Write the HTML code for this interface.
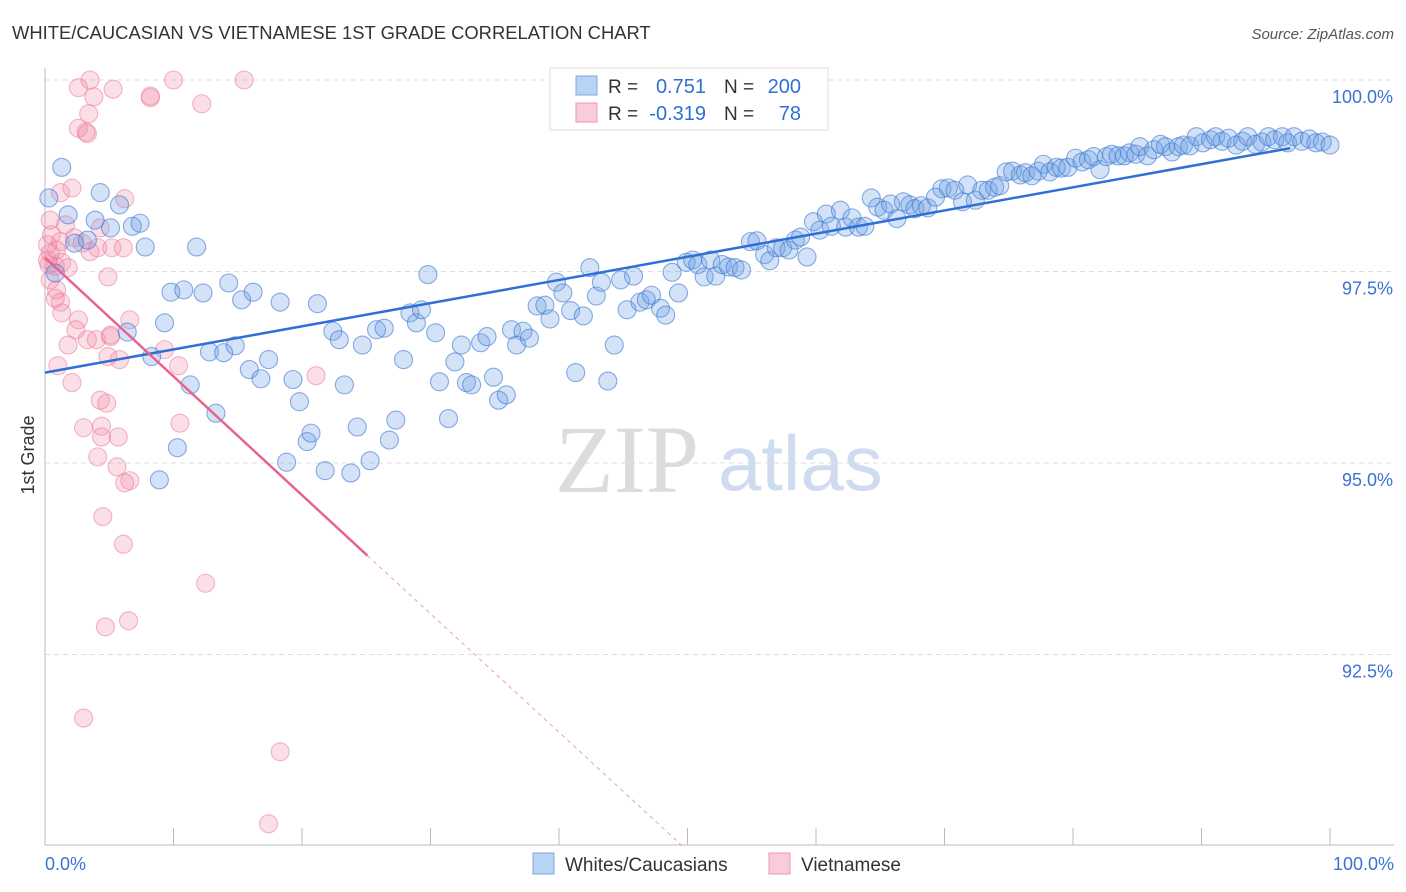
<!DOCTYPE html>
<html><head><meta charset="utf-8"><style>
body{margin:0;background:#fff;font-family:"Liberation Sans",sans-serif}
svg{display:block}
</style></head><body>
<svg id="c" width="1406" height="892" xmlns="http://www.w3.org/2000/svg">
<text x="12" y="39" font-size="18.4" fill="#333">WHITE/CAUCASIAN VS VIETNAMESE 1ST GRADE CORRELATION CHART</text>
<text x="1394" y="39" font-size="15" fill="#555" font-style="italic" text-anchor="end">Source: ZipAtlas.com</text>
<text x="555" y="492" font-size="96" fill="#dcdcdc" font-family="Liberation Serif,serif">ZIP</text>
<text x="718" y="490" font-size="78" fill="#cfdcf0">atlas</text>
<text transform="translate(34,455) rotate(-90)" font-size="18" fill="#333" text-anchor="middle">1st Grade</text>
<g id="grid"></g><g id="axes"></g><g id="pts"></g><g id="lines"></g>
<g>
<rect x="550" y="68" width="278" height="62" fill="#fff" stroke="#ddd"/>
<rect x="576" y="76" width="21" height="19" fill="#b9d3f5" stroke="#7aa7e6"/>
<text x="608" y="93" font-size="19" fill="#333">R =</text><text x="706" y="93" font-size="20" fill="#2f6fd6" text-anchor="end">0.751</text>
<text x="724" y="93" font-size="19" fill="#333">N =</text><text x="801" y="93" font-size="20" fill="#2f6fd6" text-anchor="end">200</text>
<rect x="576" y="103" width="21" height="19" fill="#f9ccd9" stroke="#ee94b0"/>
<text x="608" y="120" font-size="19" fill="#333">R =</text><text x="706" y="120" font-size="20" fill="#2f6fd6" text-anchor="end">-0.319</text>
<text x="724" y="120" font-size="19" fill="#333">N =</text><text x="801" y="120" font-size="20" fill="#2f6fd6" text-anchor="end">78</text>
</g>
<g>
<rect x="533" y="853" width="21" height="21" fill="#b9d3f5" stroke="#7aa7e6"/>
<text x="565" y="871" font-size="19" fill="#333">Whites/Caucasians</text>
<rect x="769" y="853" width="21" height="21" fill="#f9ccd9" stroke="#ee94b0"/>
<text x="801" y="871" font-size="19" fill="#333">Vietnamese</text>
</g>
</svg>
<script>
const yTicks=[100,97.5,95,92.5];
const yTickLabels=["100.0%","97.5%","95.0%","92.5%"];
const xEndLabels=["0.0%","100.0%"];
const blueX=[0.3,1.3,1.8,0.8,2.3,3.3,3.9,4.3,5.1,5.8,6.8,7.4,7.8,6.4,8.3,9.3,9.8,10.8,11.8,11.3,10.3,8.9,12.3,12.8,13.3,13.9,14.8,14.3,15.3,16.2,15.9,16.8,17.4,18.3,19.3,19.8,20.4,20.7,18.8,21.2,21.8,22.4,22.9,23.3,23.8,24.3,24.7,25.3,25.8,26.4,26.8,27.3,27.9,28.4,28.9,29.3,29.8,30.4,30.7,31.4,31.9,32.4,32.8,33.2,33.9,34.4,34.9,35.3,35.9,36.3,36.7,37.2,37.7,38.3,38.9,39.3,39.8,40.3,40.9,41.3,41.9,42.4,42.9,43.3,43.8,44.3,44.8,45.3,45.8,46.3,46.8,47.2,47.9,48.3,48.8,49.3,49.9,50.4,50.8,51.3,51.8,52.2,52.7,53.2,53.7,54.2,54.9,55.4,56.0,56.4,56.9,57.4,57.9,58.4,58.8,59.3,59.8,60.3,60.8,61.2,61.9,62.3,62.8,63.3,63.8,64.3,64.8,65.3,65.8,66.3,66.8,67.3,67.7,68.2,68.7,69.3,69.8,70.3,70.8,71.4,71.8,72.4,72.9,73.4,73.9,74.3,74.8,75.3,75.9,76.3,76.8,77.3,77.7,78.2,78.7,79.1,79.6,80.2,80.7,81.2,81.6,82.1,82.6,83.0,83.5,84.0,84.4,84.9,85.2,85.8,86.3,86.8,87.2,87.7,88.2,88.6,89.1,89.6,90.1,90.7,91.1,91.6,92.1,92.7,93.2,93.6,94.2,94.7,95.2,95.7,96.3,96.7,97.2,97.8,98.4,98.9,99.4,100.0];
const blueY=[98.46,98.86,98.24,97.48,97.87,97.91,98.17,98.53,98.07,98.37,98.09,98.13,97.82,96.71,96.39,96.83,97.23,97.26,97.82,96.02,95.20,94.78,97.22,96.45,95.65,96.44,96.53,97.35,97.13,97.23,96.22,96.10,96.35,97.10,96.09,95.80,95.28,95.39,95.01,97.08,94.90,96.72,96.61,96.02,94.87,95.47,96.54,95.03,96.74,96.76,95.30,95.56,96.35,96.96,96.83,97.00,97.46,96.70,96.06,95.58,96.32,96.54,96.05,96.02,96.57,96.65,96.12,95.82,95.89,96.74,96.54,96.72,96.63,97.05,97.06,96.88,97.36,97.22,96.99,96.18,96.92,97.55,97.18,97.36,96.07,96.54,97.39,97.00,97.44,97.10,97.13,97.19,97.02,96.93,97.49,97.22,97.62,97.65,97.59,97.43,97.65,97.44,97.59,97.56,97.55,97.52,97.89,97.90,97.72,97.64,97.81,97.81,97.78,97.91,97.95,97.69,98.15,98.04,98.25,98.09,98.30,98.08,98.20,98.08,98.09,98.46,98.34,98.30,98.38,98.19,98.41,98.37,98.32,98.36,98.33,98.47,98.58,98.59,98.56,98.41,98.63,98.43,98.56,98.56,98.60,98.62,98.80,98.81,98.76,98.79,98.75,98.81,98.90,98.80,98.86,98.85,98.86,98.98,98.93,98.96,99.00,98.83,99.00,99.03,99.01,99.01,99.05,99.03,99.13,99.01,99.09,99.16,99.13,99.06,99.13,99.15,99.14,99.26,99.18,99.22,99.26,99.20,99.24,99.15,99.20,99.26,99.16,99.19,99.26,99.22,99.26,99.18,99.26,99.20,99.23,99.18,99.19,99.15];
const pinkX=[3.5,2.6,3.8,5.3,8.2,8.2,10.0,12.2,15.5,3.4,2.6,3.2,3.3,1.2,2.1,6.2,0.4,1.6,4.3,0.2,0.5,1.2,2.3,2.9,3.5,4.1,5.2,6.1,0.2,0.8,1.3,1.8,0.4,0.9,1.2,4.9,0.8,1.3,2.6,2.4,3.3,4.0,5.1,6.6,1.8,4.9,5.8,9.3,10.4,1.0,2.1,4.3,4.8,10.5,3.0,4.4,5.7,4.4,4.1,5.6,6.6,6.2,4.5,6.1,12.5,4.7,6.5,3.0,18.3,17.4,21.1,0.9,0.4,0.3,5.1];
const pinkY=[100.0,99.90,99.78,99.88,99.77,99.79,100.0,99.69,100.0,99.56,99.37,99.32,99.30,98.53,98.59,98.45,98.17,98.11,98.07,97.85,97.98,97.89,97.94,97.87,97.76,97.81,97.81,97.81,97.65,97.57,97.62,97.55,97.39,97.26,97.10,97.43,97.15,96.96,96.87,96.74,96.61,96.61,96.65,96.87,96.54,96.39,96.35,96.48,96.27,96.27,96.05,95.82,95.78,95.52,95.46,95.48,95.34,95.34,95.08,94.95,94.77,94.74,94.30,93.94,93.43,92.86,92.94,91.67,91.23,90.29,96.14,97.78,97.74,97.59,96.67];
const blueTrend=[96.18,99.11];
const blueTrendX=[0,96.9];
const pinkTrend=[97.68,93.79,90.0];
const pinkTrendX=[0,25.1,49.6];

const X=v=>45+v*12.85;
const Y=v=>80+(100-v)*76.6;
const NS="http://www.w3.org/2000/svg";
function mk(tag,attrs,parent){const e=document.createElementNS(NS,tag);for(const k in attrs)e.setAttribute(k,attrs[k]);parent.appendChild(e);return e;}
const grid=document.getElementById('grid'),axes=document.getElementById('axes'),pts=document.getElementById('pts'),lines=document.getElementById('lines');
yTicks.forEach((t,i)=>{
  const l=mk('line',{x1:45,x2:1394,y1:Y(t),y2:Y(t),stroke:'#ddd','stroke-dasharray':'5,4'},grid);
  
  
  const tx=mk('text',{x:1393,y:Y(t)+23,'font-size':18,fill:'#3b73d1','text-anchor':'end'},axes);
  tx.textContent=yTickLabels[i];
  
  
});
const ax=mk('line',{x1:45,x2:45,y1:68,y2:845,stroke:'#bbb'},axes);


const bx=mk('line',{x1:45,x2:1394,y1:845,y2:845,stroke:'#bbb'},axes);


for(let k=1;k<=10;k++){
  const t=mk('line',{x1:X(k*10),x2:X(k*10),y1:828,y2:845,stroke:'#bbb'},axes);
  
  
}
[[0,'start',45],[100,'end',1394]].forEach((d,i)=>{
  const t=mk('text',{x:d[2],y:870,'font-size':18,fill:'#3b73d1','text-anchor':d[1]},axes);
  t.textContent=xEndLabels[i];
  
  
});
pinkX.forEach((x,i)=>{
  const c=mk('circle',{cx:X(x),cy:Y(pinkY[i]),r:9,fill:'rgba(242,140,170,0.28)',stroke:'rgba(236,120,155,0.55)','stroke-width':1.1},pts);
  
  
});
blueX.forEach((x,i)=>{
  const c=mk('circle',{cx:X(x),cy:Y(blueY[i]),r:9,fill:'rgba(110,160,230,0.3)',stroke:'rgba(60,120,210,0.6)','stroke-width':1.1},pts);
  
  
});
const bl=mk('line',{x1:X(blueTrendX[0]),y1:Y(blueTrend[0]),x2:X(blueTrendX[1]),y2:Y(blueTrend[1]),stroke:'#2f6fd6','stroke-width':2.5},lines);


const pl=mk('line',{x1:X(pinkTrendX[0]),y1:Y(pinkTrend[0]),x2:X(pinkTrendX[1]),y2:Y(pinkTrend[1]),stroke:'#e8648f','stroke-width':2.5},lines);


const pd=mk('line',{x1:X(pinkTrendX[1]),y1:Y(pinkTrend[1]),x2:X(pinkTrendX[2]),y2:Y(pinkTrend[2]),stroke:'#e8a0b8','stroke-width':1,'stroke-dasharray':'4,4'},lines);


</script>
</body></html>
